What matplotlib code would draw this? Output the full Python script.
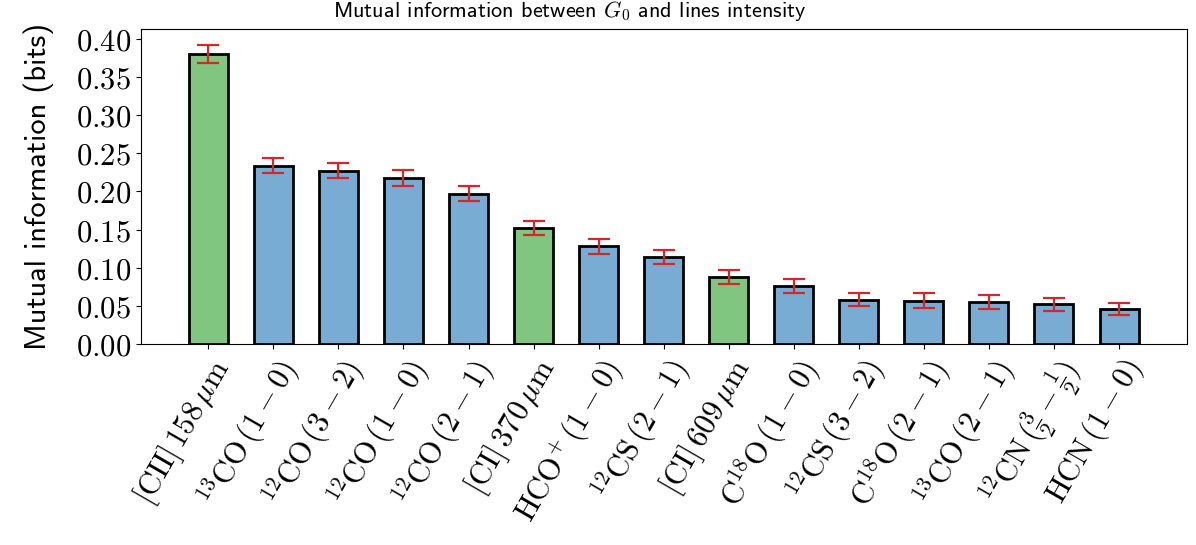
import matplotlib
matplotlib.use("Agg")
import matplotlib.pyplot as plt
import numpy as np

plt.rcParams['mathtext.fontset'] = 'cm'

labels = [
    r'$[\mathrm{CII}]\,158\,\mu\mathrm{m}$',
    r'${}^{13}\mathrm{CO}\,(1-0)$',
    r'${}^{12}\mathrm{CO}\,(3-2)$',
    r'${}^{12}\mathrm{CO}\,(1-0)$',
    r'${}^{12}\mathrm{CO}\,(2-1)$',
    r'$[\mathrm{CI}]\,370\,\mu\mathrm{m}$',
    r'$\mathrm{HCO}^{+}\,(1-0)$',
    r'${}^{12}\mathrm{CS}\,(2-1)$',
    r'$[\mathrm{CI}]\,609\,\mu\mathrm{m}$',
    r'$\mathrm{C}^{18}\mathrm{O}\,(1-0)$',
    r'${}^{12}\mathrm{CS}\,(3-2)$',
    r'$\mathrm{C}^{18}\mathrm{O}\,(2-1)$',
    r'${}^{13}\mathrm{CO}\,(2-1)$',
    r'${}^{12}\mathrm{CN}\,(\frac{3}{2}-\frac{1}{2})$',
    r'$\mathrm{HCN}\,(1-0)$',
]
values = [0.380, 0.234, 0.227, 0.217, 0.197, 0.152, 0.128, 0.114, 0.088,
          0.076, 0.058, 0.057, 0.055, 0.052, 0.046]
errors = [0.0115, 0.010, 0.010, 0.0105, 0.010, 0.0095, 0.0095, 0.009, 0.0095,
          0.009, 0.0085, 0.0093, 0.0087, 0.0085, 0.008]
is_atomic = [True, False, False, False, False, True, False, False, True,
             False, False, False, False, False, False]

green = '#80c680'
blue = '#79acd2'
colors = [green if a else blue for a in is_atomic]

fig = plt.figure(figsize=(11.96, 5.45), dpi=100)
ax = fig.add_axes([0.1176, 0.3688, 0.8746, 0.578])

x = np.arange(len(values))
ax.bar(x, values, width=0.6, color=colors, edgecolor='black', linewidth=2.0, zorder=2)
ax.errorbar(x, values, yerr=errors, fmt='none', ecolor='#d62728', elinewidth=1.6,
            capsize=8.2, capthick=1.6, zorder=3)

ax.set_xlim(-1.04, 15.04)
ax.set_ylim(0, 0.413)
ax.set_xticks(x)
ax.set_xticklabels(labels, rotation=60, ha='right', rotation_mode='anchor', fontsize=22)
yt = np.arange(0, 0.41, 0.05)
ax.set_yticks(yt)
ax.set_yticklabels([r'$%.2f$' % v for v in yt], fontsize=22)
ax.set_ylabel('Mutual information (bits)', family='cmss10', fontsize=22, labelpad=16)

fig.text(0.476, 1 - 17 / 545, r'Mutual information between $G_0$ and lines intensity',
         family='cmss10', fontsize=16, ha='center', va='baseline')

fig.savefig('out.png', dpi=100)
